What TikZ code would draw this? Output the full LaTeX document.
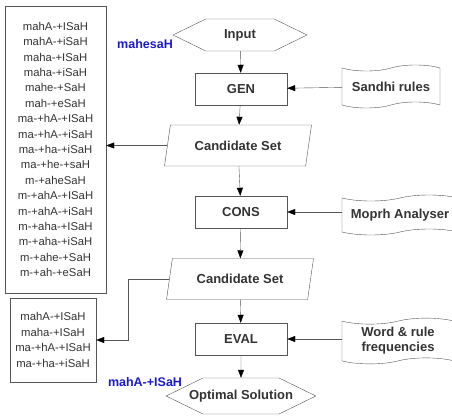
\documentclass[tikz,border=0pt]{standalone}
\usepackage{fontspec}
\setmainfont{Liberation Sans}
\usetikzlibrary{arrows.meta,shapes.geometric,shapes.symbols}
\definecolor{edgegray}{HTML}{555555}
\definecolor{txtgray}{HTML}{333333}
\definecolor{outblue}{HTML}{1A1AC8}
\tikzset{
  stage/.style    = {draw=edgegray, minimum width=92pt, minimum height=32pt,
                     font=\fontsize{13}{15}\selectfont\bfseries, text=txtgray},
  dataset/.style  = {draw=edgegray, trapezium, trapezium left angle=76,
                     trapezium right angle=104, trapezium stretches=true,
                     minimum width=147pt, minimum height=41pt,
                     font=\fontsize{13}{15}\selectfont\bfseries, text=txtgray},
  terminal/.style = {draw=edgegray, signal, signal to=west and east,
                     signal pointer angle=52, minimum height=32pt,
                     font=\fontsize{13}{15}\selectfont\bfseries, text=txtgray},
  resource/.style = {draw=edgegray, tape, tape bend height=6pt, align=center,
                     font=\fontsize{13}{15}\selectfont\bfseries, text=txtgray},
  listbox/.style  = {draw=edgegray, align=center, text=txtgray,
                     font=\fontsize{11.3}{15.4}\selectfont},
  outlabel/.style = {text=outblue, font=\fontsize{12.5}{15}\selectfont\bfseries},
  flow/.style     = {edgegray, -{Triangle[length=8pt,width=6pt,black]}},
}
\begin{document}
\begin{tikzpicture}[x=1pt,y=-1pt]
  \useasboundingbox (0,0) rectangle (452,415);
  % main column
  \node[terminal, minimum width=134pt] (input) at (240,35) {Input};
  \node[stage] (gen) at (241,89) {GEN};
  \node[dataset] (cand1) at (238,145.5) {Candidate Set};
  \node[stage] (cons) at (241,212) {CONS};
  \node[dataset] (cand2) at (240,279) {Candidate Set};
  \node[stage] (eval) at (241,339) {EVAL};
  \node[terminal, inner xsep=-14pt, minimum height=36pt] (opt) at (241,396) {Optimal Solution};
  % resources
  \node[resource, minimum width=98pt, minimum height=43pt] (rules) at (391,86.5) {Sandhi rules};
  \node[resource, minimum width=116pt, minimum height=40pt] (morph) at (400,215) {Moprh Analyser};
  \node[resource, minimum width=112pt, minimum height=42pt] (freq) at (398,341) {Word \& rule\\frequencies};
  % candidate lists
  \node[listbox, minimum width=101pt, minimum height=287pt] (allcand) at (55.5,149.5)
    {mahA-+ISaH\\mahA-+iSaH\\maha-+ISaH\\maha-+iSaH\\mahe-+SaH\\mah-+eSaH\\
     ma-+hA-+ISaH\\ma-+hA-+iSaH\\ma-+ha-+iSaH\\ma-+he-+saH\\m-+aheSaH\\
     m-+ahA-+ISaH\\m-+ahA-+iSaH\\m-+aha-+ISaH\\m-+aha-+iSaH\\m-+ahe-+SaH\\m-+ah-+eSaH};
  \node[listbox, minimum width=86pt, minimum height=84pt] (fewcand) at (53,340)
    {mahA-+ISaH\\maha-+ISaH\\ma-+hA-+ISaH\\ma-+ha-+iSaH};
  % example word
  \node[outlabel] (word) at (145,44) {mahesaH};
  \node[outlabel] (best) at (145,382) {mahA-+ISaH};
  % connectors
  \draw[flow] (input) -- (gen);
  \draw[flow] (gen) -- (cand1);
  \draw[flow] (cand1) -- (cons);
  \draw[flow] (cons) -- (cand2);
  \draw[flow] (cand2) -- (eval);
  \draw[flow] (eval) -- (opt);
  \draw[flow] (rules) -- (gen);
  \draw[flow] (morph.west |- cons) -- (cons);
  \draw[flow] (freq.west |- eval) -- (eval);
  \draw[flow] (cand1.west) -- (cand1.west -| allcand.east);
  \draw[flow] (cand2.west) -- ++(-41,0) |- (fewcand.east);
\end{tikzpicture}
\end{document}
